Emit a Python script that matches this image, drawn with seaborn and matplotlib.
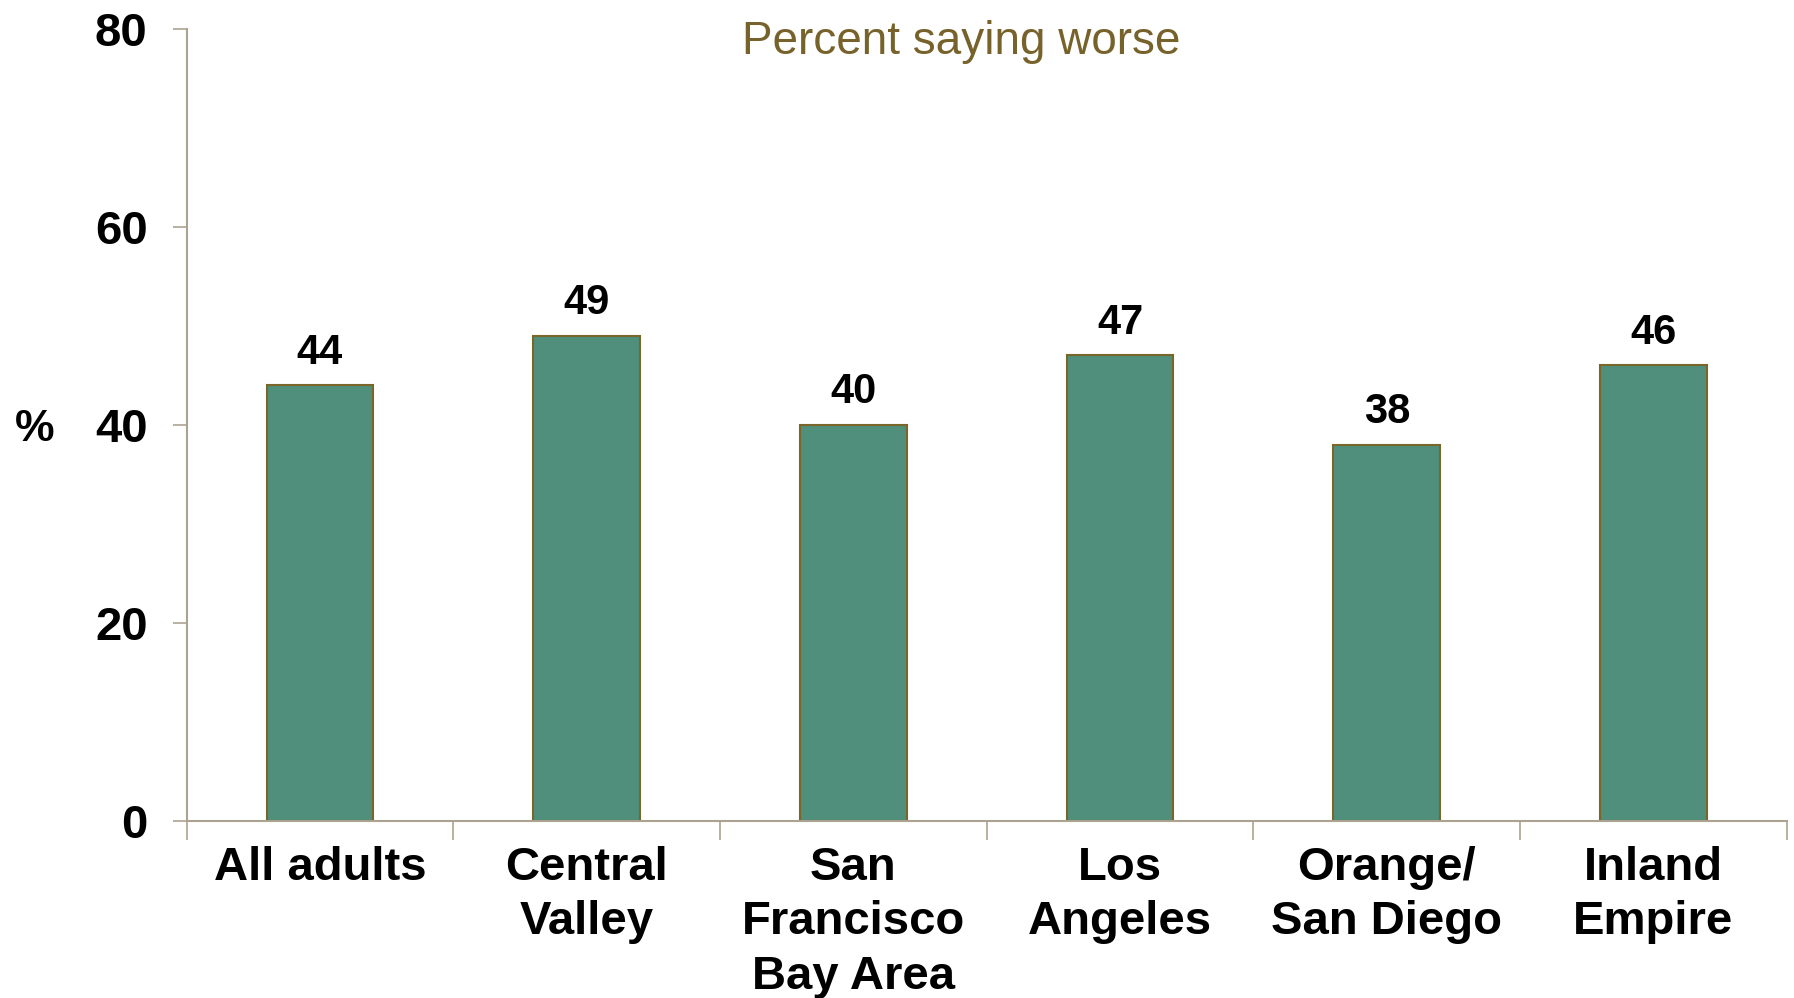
import matplotlib
matplotlib.use("Agg")
import matplotlib.pyplot as plt
import matplotlib.ticker as ticker
from matplotlib import font_manager
import seaborn as sns
import pandas as pd

regions = ["All adults", "Central\nValley", "San\nFrancisco\nBay Area",
           "Los\nAngeles", "Orange/\nSan Diego", "Inland\nEmpire"]
pct_worse = [44, 49, 40, 47, 38, 46]
y_ticks = [0, 20, 40, 60, 80]

bar_color = "#4F8F7C"
edge_color = "#7A6628"
axis_color = "#ABA38F"
title_color = "#76622A"

names = {f.name for f in font_manager.fontManager.ttflist}
font = "Liberation Sans Narrow" if "Liberation Sans Narrow" in names else "Liberation Sans"

sns.set_style("white")
plt.rcParams["font.family"] = [font, "DejaVu Sans"]
plt.rcParams["text.color"] = "black"
plt.rcParams["axes.labelcolor"] = "black"
plt.rcParams["xtick.labelcolor"] = "black"
plt.rcParams["ytick.labelcolor"] = "black"

df = pd.DataFrame({"region": regions, "pct": pct_worse})

fig = plt.figure(figsize=(17.94, 9.98), dpi=100)
ax = fig.add_axes([0.104, 0.1774, 0.892, 0.7939])

sns.barplot(data=df, x="region", y="pct", ax=ax, color=bar_color,
            width=0.4, edgecolor=edge_color, linewidth=1.5, saturation=1)

for c in ax.containers:
    ax.bar_label(c, fmt="%d", padding=9, fontsize=30, fontweight="bold",
                 color="black")

ax.set_ylim(0, 80)
ax.set_xlim(-0.5, len(regions) - 0.5)
ax.set_yticks(y_ticks)
ax.set_xlabel("")
ax.set_ylabel("%", rotation=0, fontsize=32, fontweight="bold",
              va="center", ha="center")
ax.yaxis.set_label_coords(-0.095, 0.494)

ax.xaxis.set_minor_locator(ticker.FixedLocator(
    [i - 0.5 for i in range(len(regions) + 1)]))
ax.tick_params(axis="x", which="major", length=0, pad=18,
               labelsize=34)
ax.tick_params(axis="x", which="minor", length=14, width=1.2,
               color=axis_color, direction="out", bottom=True)
ax.tick_params(axis="y", length=10, width=1.2, color=axis_color,
               direction="out", left=True, pad=18, labelsize=34)
for lbl in ax.get_xticklabels() + ax.get_yticklabels():
    lbl.set_fontweight("bold")
for lbl in ax.get_xticklabels():
    lbl.set_linespacing(1.31)

sns.despine(ax=ax, top=True, right=True)
for side in ["left", "bottom"]:
    ax.spines[side].set_color(axis_color)
    ax.spines[side].set_linewidth(1.5)

fig.text(0.536, 0.958, "Percent saying worse", ha="center", va="center",
         fontsize=33, color=title_color)

plt.savefig("out.png", dpi=100)
